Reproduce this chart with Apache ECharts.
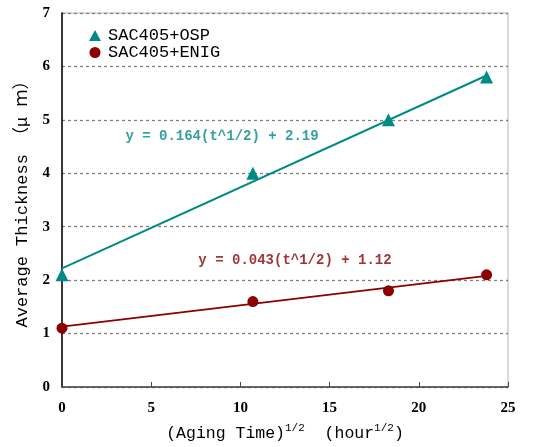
<!DOCTYPE html>
<html><head><meta charset="utf-8">
<script src="https://cdn.jsdelivr.net/npm/echarts@6/dist/echarts.min.js"></script>
<style>html,body{margin:0;padding:0;background:#fff}#c{width:551px;height:447px}</style>
</head><body><div id="c"></div>
<script>
// data
var sqrtTime = [0, 10.7, 18.3, 23.8];
var ospThickness = [2.1, 4.0, 5.0, 5.8];
var enigThickness = [1.1, 1.6, 1.8, 2.1];
var ospFitX = [0, 23.8];
var ospFitY = [2.22, 5.83];
var enigFitX = [0, 23.8];
var enigFitY = [1.13, 2.08];
var ospEqText = 'y = 0.164(t^1/2) + 2.19';
var enigEqText = 'y = 0.043(t^1/2) + 1.12';
var ospEqAt = [8.97, 4.68];
var enigEqAt = [13.06, 2.36];
var xTicks = [0, 5, 10, 15, 20, 25];
var yTicks = [0, 1, 2, 3, 4, 5, 6, 7];

function zip(a, b) { return a.map(function (v, i) { return [v, b[i]]; }); }
var teal = '#008a86', maroon = '#8b0000';
var mono = 'Liberation Mono';
var chart = echarts.init(document.getElementById('c'));
chart.setOption({
  backgroundColor: '#fff',
  animation: false,
  grid: { left: 62, right: 43, top: 13, bottom: 60, show: true, borderColor: '#b4b4b4', borderWidth: 1,
          containLabel: false, outerBoundsMode: 'none' },
  legend: {
    left: 84, top: 22, orient: 'vertical', itemGap: 0, itemWidth: 12, itemHeight: 11,
    data: [{ name: 'SAC405+OSP', icon: 'triangle' }, { name: 'SAC405+ENIG', icon: 'circle' }],
    textStyle: { fontFamily: mono, fontSize: 17, lineHeight: 17, color: '#000', padding: [0, 0, 0, 2] }
  },
  xAxis: {
    type: 'value', min: xTicks[0], max: xTicks[xTicks.length - 1], interval: 5,
    axisLine: { lineStyle: { color: '#444', width: 1.5 } },
    axisTick: { inside: true, length: 5, lineStyle: { color: '#444' } },
    splitLine: { show: false },
    axisLabel: { fontFamily: 'Liberation Serif', fontWeight: 'bold', fontSize: 15, color: '#000', margin: 14 },
    name: '{t|(Aging Time)}{s|1/2}{t|  (hour}{s|1/2}{t|)}',
    nameLocation: 'middle', nameGap: 36,
    nameTextStyle: {
      rich: {
        t: { fontFamily: mono, fontSize: 16.5, color: '#000' },
        s: { fontFamily: mono, fontSize: 11, color: '#000', verticalAlign: 'top', padding: [0, 0, 10, 0] }
      }
    }
  },
  yAxis: {
    type: 'value', min: yTicks[0], max: yTicks[yTicks.length - 1], interval: 1,
    axisLine: { show: true, lineStyle: { color: '#000', width: 1.5 } },
    axisTick: { show: false },
    splitLine: { lineStyle: { color: '#808080', type: [3, 3], width: 1.3 } },
    axisLabel: { fontFamily: 'Liberation Serif', fontWeight: 'bold', fontSize: 15, color: '#000', margin: 12 },
    name: 'Average Thickness （μ ｍ）', nameLocation: 'middle', nameGap: 31, nameMoveOverlap: false,
    nameTextStyle: { fontFamily: 'Liberation Mono, Noto Sans CJK SC', fontSize: 17, color: '#000' }
  },
  series: [
    { name: 'OSP fit', type: 'line', data: zip(ospFitX, ospFitY), symbol: 'none', lineStyle: { color: teal, width: 2 }, z: 2 },
    { name: 'ENIG fit', type: 'line', data: zip(enigFitX, enigFitY), symbol: 'none', lineStyle: { color: maroon, width: 2 }, z: 2 },
    { name: 'SAC405+OSP', type: 'scatter', data: zip(sqrtTime, ospThickness), symbol: 'triangle', symbolSize: 13, itemStyle: { color: teal, opacity: 1 }, z: 3 },
    { name: 'SAC405+ENIG', type: 'scatter', data: zip(sqrtTime, enigThickness), symbol: 'circle', symbolSize: 11, itemStyle: { color: maroon, opacity: 1 }, z: 3 },
    { name: 'eq1', type: 'scatter', data: [ospEqAt], symbolSize: 0, silent: true,
      label: { show: true, position: 'inside', formatter: ospEqText, fontFamily: mono, fontSize: 14, fontWeight: 'bold', color: teal } },
    { name: 'eq2', type: 'scatter', data: [enigEqAt], symbolSize: 0, silent: true,
      label: { show: true, position: 'inside', formatter: enigEqText, fontFamily: mono, fontSize: 14, fontWeight: 'bold', color: maroon } }
  ]
});
</script></body></html>
